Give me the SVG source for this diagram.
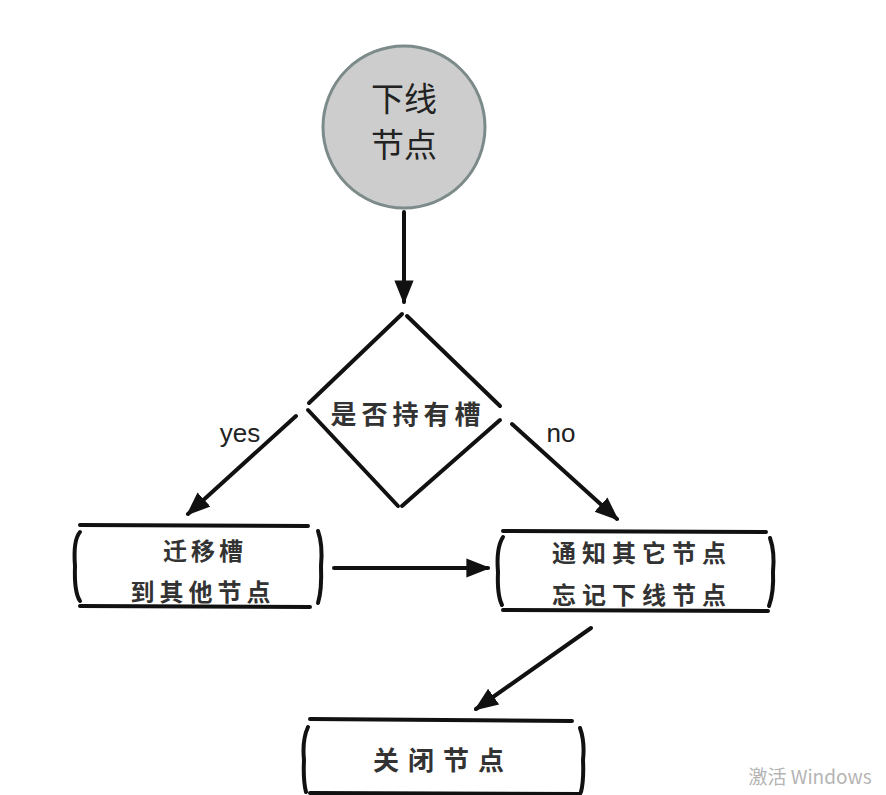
<svg xmlns="http://www.w3.org/2000/svg" width="886" height="795" viewBox="0 0 886 795">
<defs>
<style>
.ln{fill:none;stroke:#111;stroke-width:4;stroke-linecap:round;stroke-linejoin:round}
.cn{fill:none;stroke:#111;stroke-width:4;stroke-linecap:round}
.t{font-family:"Noto Sans CJK SC","Noto Sans",sans-serif;fill:#222;text-anchor:middle}
.h{font-family:"Noto Sans CJK SC",serif;font-weight:bold;fill:#333;text-anchor:middle}
.lb{font-family:"Liberation Sans","Noto Sans",sans-serif;fill:#222;font-size:26px;text-anchor:middle}
</style>
<marker id="ah" viewBox="0 0 10 10" refX="9" refY="5" markerWidth="6" markerHeight="6" orient="auto" markerUnits="strokeWidth">
<path d="M0,1 L10,5 L0,9 Z" fill="#111"/>
</marker>
</defs>
<rect width="886" height="795" fill="#ffffff"/>

<g id="start">
<circle cx="404" cy="127" r="81" fill="#cdcdcd" stroke="#7c8a8a" stroke-width="3"/>
<text class="t" x="404" y="111" font-size="33">下线</text>
<text class="t" x="404" y="157" font-size="33">节点</text>
</g>

<g id="decision">
<path class="ln" d="M402,314 L309,403"/>
<path class="ln" d="M407,316 L500,406"/>
<path class="ln" d="M308,410 L398,506"/>
<path class="ln" d="M402,506 L500,420"/>
<text class="h" x="408" y="424" font-size="26" letter-spacing="5">是否持有槽</text>
</g>

<g id="migrate">
<path class="ln" d="M80,525 L308,526"/>
<path class="ln" d="M80,606 L310,607"/>
<path class="ln" d="M80,532 Q73,540 75,566 Q74,592 80,601"/>
<path class="ln" d="M318,531 Q323,545 321,566 Q322,590 318,603"/>
<text class="h" x="205" y="560" font-size="24" letter-spacing="4">迁移槽</text>
<text class="h" x="203" y="601" font-size="24" letter-spacing="5">到其他节点</text>
</g>

<g id="notify">
<path class="ln" d="M503,531 L766,532"/>
<path class="ln" d="M503,610 L768,611"/>
<path class="ln" d="M503,537 Q496,548 498,572 Q497,595 502,605"/>
<path class="ln" d="M770,538 Q775,552 773,572 Q774,592 769,606"/>
<text class="h" x="642" y="562" font-size="24" letter-spacing="6">通知其它节点</text>
<text class="h" x="642" y="604" font-size="24" letter-spacing="6">忘记下线节点</text>
</g>

<g id="close">
<path class="ln" d="M310,719 L572,721"/>
<path class="ln" d="M310,793 L580,794"/>
<path class="ln" d="M308,727 Q302,740 304,760 Q303,780 306,792"/>
<path class="ln" d="M580,728 Q585,742 583,760 Q584,780 581,792"/>
<text class="h" x="443" y="770" font-size="26" letter-spacing="9">关闭节点</text>
</g>

<g id="connectors">
<line class="cn" x1="404" y1="212" x2="404" y2="302" marker-end="url(#ah)"/>
<line class="cn" x1="296" y1="416" x2="188" y2="514" marker-end="url(#ah)"/>
<line class="cn" x1="512" y1="424" x2="617" y2="519" marker-end="url(#ah)"/>
<line class="cn" x1="334" y1="568" x2="488" y2="568" marker-end="url(#ah)"/>
<line class="cn" x1="591" y1="628" x2="476" y2="709" marker-end="url(#ah)"/>
<text class="lb" x="240" y="442">yes</text>
<text class="lb" x="561" y="442">no</text>
</g>

<text x="810" y="784" font-family="Noto Sans CJK SC,sans-serif" font-size="19" fill="#b4b4b4" text-anchor="middle">激活 Windows</text>
</svg>
